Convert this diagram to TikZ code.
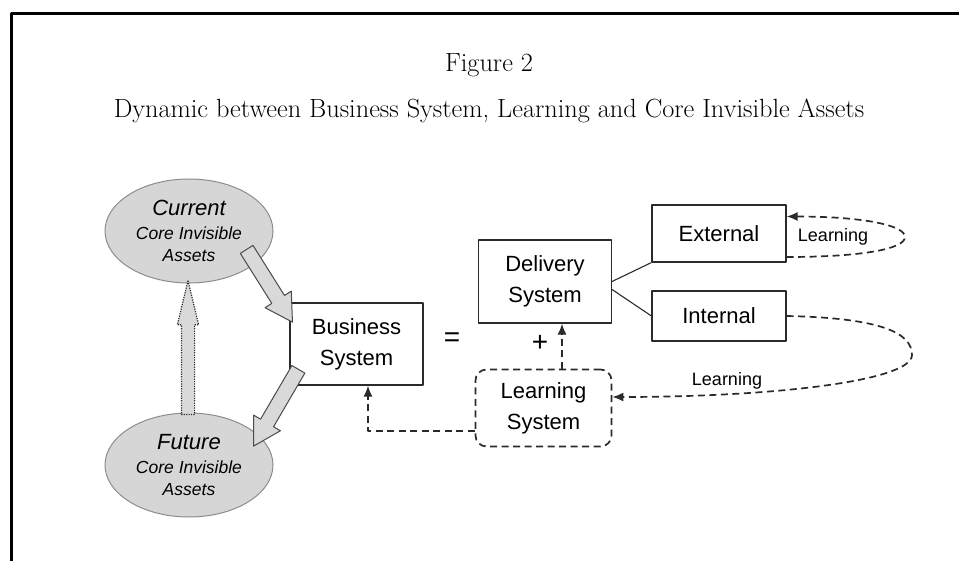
\documentclass[tikz,border=0pt]{standalone}
\usepackage{fontspec}
\setsansfont{Liberation Sans}
\usetikzlibrary{shapes.geometric,shapes.arrows,arrows.meta}

\definecolor{assetfill}{HTML}{D6D6D6}
\definecolor{assetline}{HTML}{8C8C8C}
\definecolor{inkgray}{HTML}{2A2A2A}
\definecolor{arrowfill}{HTML}{D9D9D9}

\newcommand\assetbig{\fontsize{22}{26}\selectfont}

\begin{document}
\begin{tikzpicture}[x=1pt, y=-1pt, line join=round,
  asset/.style={ellipse, draw=assetline, fill=assetfill, line width=1pt,
    minimum width=168pt, minimum height=104pt, inner sep=0pt, align=center,
    font=\sffamily\itshape\fontsize{17.5}{22}\selectfont},
  sysbox/.style={draw=inkgray, line width=1.1pt, inner sep=0pt, align=center,
    font=\sffamily\fontsize{22}{31}\selectfont},
  learnbox/.style={sysbox, rounded corners=11pt, dash pattern=on 7pt off 4.5pt, line width=1.7pt},
  fatarrow/.style={single arrow, draw=inkgray!85, fill=arrowfill, line width=1pt,
    inner xsep=0pt, inner ysep=7pt, anchor=tip, single arrow head extend=8pt,
    single arrow tip angle=60},
  dotarrow/.style={fatarrow, draw=inkgray, dash pattern=on 1.2pt off 1.2pt, line width=1.2pt,
    inner ysep=6pt, single arrow head extend=4pt, single arrow tip angle=27},
  dlink/.style={draw=inkgray, line width=1.7pt, dash pattern=on 7pt off 4.5pt,
    -{Latex[length=11pt,width=9pt]}},
  lbl/.style={inner sep=0pt, font=\sffamily\fontsize{18}{20}\selectfont},
  sign/.style={inner sep=0pt, font=\sffamily\fontsize{28}{30}\selectfont}]

  %% frame
  \draw[line width=3.5pt] (11.5,561) -- (11.5,13.5) -- (959,13.5);

  %% titles
  \node[font=\rmfamily\fontsize{26.3}{30}\selectfont] (fig) at (489,65) {Figure 2};
  \node[font=\rmfamily\fontsize{26.3}{30}\selectfont] (caption) at (489,111)
    {Dynamic between Business System, Learning and Core Invisible Assets};

  %% assets
  \node[asset] (cur) at (189,231)
    {{\assetbig Current}\\[2pt]Core Invisible\\Assets};
  \node[asset] (fut) at (189,465)
    {{\assetbig Future}\\[2pt]Core Invisible\\Assets};

  %% systems
  \node[sysbox, minimum width=133pt, minimum height=82pt] (bus) at (356.5,344) {Business\\System};
  \node[sign] (eq) at (452,340) {=};
  \node[sysbox, minimum width=133pt, minimum height=83pt] (del) at (545,281.5) {Delivery\\System};
  \node[sign] (plus) at (540,343) {+};
  \node[learnbox, minimum width=136pt, minimum height=77pt] (lrn) at (543.5,408) {Learning\\System};
  \node[sysbox, minimum width=134pt, minimum height=57pt] (ext) at (719,233.5) {External};
  \node[sysbox, minimum width=134pt, minimum height=50pt] (int) at (719,316) {Internal};

  %% big arrows
  \node[fatarrow, minimum height=86pt, minimum width=30pt, rotate=-57.8] (tobus) at (293,323) {};
  \node[fatarrow, minimum height=89pt, minimum width=30pt, rotate=-120.3] (tofut) at (253,447) {};
  \node[dotarrow, minimum height=134pt, minimum width=20pt, rotate=90] (tocur) at (188,278) {};

  %% links
  \draw[draw=inkgray, line width=1.1pt] (del.east) -- (ext.south west);
  \draw[draw=inkgray, line width=1.1pt] ([yshift=-8pt]del.east) -- (int.west);
  \draw[dlink] ([xshift=18.5pt]lrn.north) -- ([xshift=18.5pt]lrn.north |- del.south);
  \draw[dlink] ([yshift=-23pt]lrn.west) -| ([xshift=11.5pt]bus.south);

  %% learning loops
  \coordinate (extturn) at (905,237);
  \coordinate (intturn) at (912,355);
  \draw[dlink] ([yshift=-23.5pt]ext.east) .. controls +(75,0) and +(0,12) .. (extturn)
    .. controls +(0,-12) and +(75,0) .. ([yshift=17pt]ext.east);
  \node[lbl] (extlearn) at (833,237) {Learning};
  \draw[dlink] (int.east) .. controls +(95,2) and +(0,-22) .. (intturn)
    .. controls +(0,26) and +(160,0) .. ([yshift=11pt]lrn.east);
  \node[lbl] (intlearn) at (727,381) {Learning};

  \pgfresetboundingbox
  \path[use as bounding box] (0,0) rectangle (959,561);
\end{tikzpicture}
\end{document}
